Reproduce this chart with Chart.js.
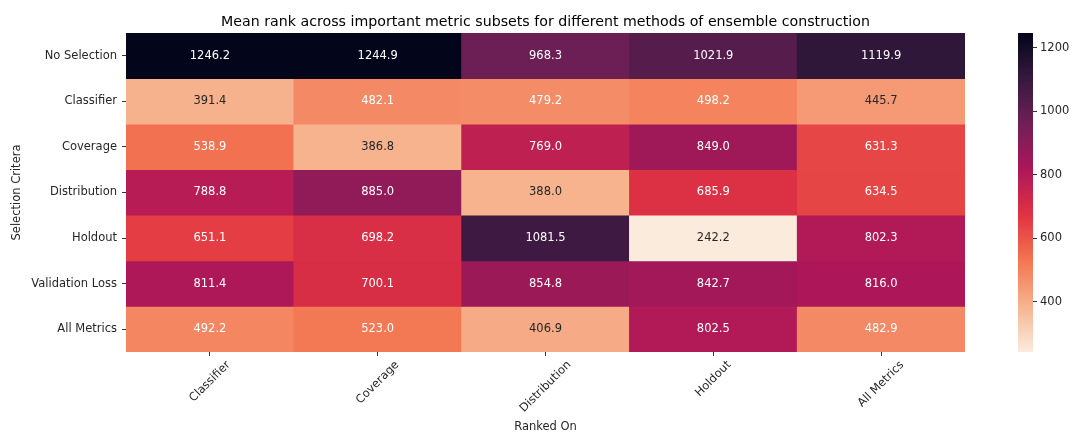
<!DOCTYPE html>
<html>
<head>
<meta charset="utf-8">
<script src="https://cdn.jsdelivr.net/npm/chart.js@4.4.1/dist/chart.umd.min.js"></script>
<style>
  html, body { margin: 0; padding: 0; background: #ffffff; }
  #wrap { position: relative; width: 1072px; height: 433px; }
  #wrap canvas { position: absolute; left: 0; top: 0; }
</style>
</head>
<body>
<div id="wrap">
  <canvas id="heat" width="1072" height="433"></canvas>
  <canvas id="cbar" width="1072" height="433"></canvas>
</div>
<script>
// Row / column categories
const rowLabels = ['No Selection', 'Classifier', 'Coverage', 'Distribution', 'Holdout', 'Validation Loss', 'All Metrics'];
const colLabels = ['Classifier', 'Coverage', 'Distribution', 'Holdout', 'All Metrics'];

// Mean rank per selection criterion (one array per row, columns in colLabels order)
const noSelection    = [1246.2, 1244.9, 968.3, 1021.9, 1119.9];
const classifier     = [391.4, 482.1, 479.2, 498.2, 445.7];
const coverage       = [538.9, 386.8, 769.0, 849.0, 631.3];
const distribution   = [788.8, 885.0, 388.0, 685.9, 634.5];
const holdout        = [651.1, 698.2, 1081.5, 242.2, 802.3];
const validationLoss = [811.4, 700.1, 854.8, 842.7, 816.0];
const allMetrics     = [492.2, 523.0, 406.9, 802.5, 482.9];

const colorbarTicks = [400, 600, 800, 1000, 1200];

const rowValues = [noSelection, classifier, coverage, distribution, holdout, validationLoss, allMetrics];
const flat = rowValues.flat();
const vmin = Math.min(...flat);
const vmax = Math.max(...flat);

const FONT = "'DejaVu Sans', sans-serif";
const TEXT = '#262626';

// "rocket" colormap anchor colours; heat uses it reversed
const rocketStops = [
  [0, '#03051a'], [1 / 7, '#35193e'], [2 / 7, '#701f57'], [3 / 7, '#ad1759'],
  [4 / 7, '#e13342'], [5 / 7, '#f37651'], [6 / 7, '#f6b48f'], [1, '#faebdd']
];
function hexToRgb(h) {
  return [parseInt(h.slice(1, 3), 16), parseInt(h.slice(3, 5), 16), parseInt(h.slice(5, 7), 16)];
}
function rocket(t) {
  t = Math.max(0, Math.min(1, t));
  for (let i = 1; i < rocketStops.length; i++) {
    const [p1, c1] = rocketStops[i];
    const [p0, c0] = rocketStops[i - 1];
    if (t <= p1) {
      const f = (t - p0) / (p1 - p0);
      const a = hexToRgb(c0), b = hexToRgb(c1);
      return a.map((v, k) => Math.round(v + (b[k] - v) * f));
    }
  }
  return hexToRgb(rocketStops[rocketStops.length - 1][1]);
}
function rgbFor(v) { return rocket(1 - (v - vmin) / (vmax - vmin)); }
function cssFor(v) { const c = rgbFor(v); return `rgb(${c[0]},${c[1]},${c[2]})`; }
function luminance(rgb) {
  const lin = rgb.map(c => { c /= 255; return c <= 0.03928 ? c / 12.92 : Math.pow((c + 0.055) / 1.055, 2.4); });
  return 0.2126 * lin[0] + 0.7152 * lin[1] + 0.0722 * lin[2];
}

// Cell value annotations
const cellLabels = {
  id: 'cellLabels',
  afterDatasetsDraw(chart) {
    const ctx = chart.ctx;
    ctx.save();
    ctx.font = `11.5px ${FONT}`;
    ctx.textAlign = 'center';
    ctx.textBaseline = 'middle';
    chart.data.datasets.forEach((ds, r) => {
      chart.getDatasetMeta(r).data.forEach((el, i) => {
        const v = ds.values[i];
        ctx.fillStyle = luminance(rgbFor(v)) > 0.408 ? TEXT : '#ffffff';
        ctx.fillText(v.toFixed(1), el.x, (el.y + el.base) / 2);
      });
    });
    ctx.restore();
  }
};

// Column labels, rotated 45 degrees and centred under each tick
const columnLabels = {
  id: 'columnLabels',
  afterDraw(chart) {
    const ctx = chart.ctx;
    const xs = chart.scales.x;
    const top = chart.chartArea.bottom + 7;
    ctx.save();
    ctx.font = `11.5px ${FONT}`;
    ctx.fillStyle = TEXT;
    ctx.textAlign = 'center';
    ctx.textBaseline = 'middle';
    const h = 11.5;
    colLabels.forEach((lab, i) => {
      const w = ctx.measureText(lab).width;
      const boxH = (w + h) * Math.SQRT1_2;
      ctx.save();
      ctx.translate(xs.getPixelForValue(i), top + boxH / 2);
      ctx.rotate(-Math.PI / 4);
      ctx.fillText(lab, 0, 0);
      ctx.restore();
    });
    ctx.restore();
  }
};

// Figure title centred over the heat map
const heatTitle = {
  id: 'heatTitle',
  afterDraw(chart) {
    const ctx = chart.ctx;
    const ca = chart.chartArea;
    ctx.save();
    ctx.font = `14.2px ${FONT}`;
    ctx.fillStyle = '#000000';
    ctx.textAlign = 'center';
    ctx.textBaseline = 'alphabetic';
    ctx.fillText('Mean rank across important metric subsets for different methods of ensemble construction', (ca.left + ca.right) / 2, 26);
    ctx.restore();
  }
};

new Chart(document.getElementById('heat'), {
  type: 'bar',
  data: {
    labels: colLabels,
    datasets: rowValues.map((vals, r) => ({
      label: rowLabels[r],
      values: vals,
      data: vals.map(() => [r, r + 1]),
      backgroundColor: vals.map(cssFor),
      borderWidth: 0,
      grouped: false,
      barPercentage: 1,
      categoryPercentage: 1
    }))
  },
  options: {
    responsive: false,
    animation: false,
    events: [],
    layout: { padding: { top: 33, right: 107, left: 0, bottom: 0 } },
    plugins: { legend: { display: false }, tooltip: { enabled: false } },
    scales: {
      x: {
        type: 'category',
        offset: true,
        border: { display: false },
        grid: { offset: false, drawOnChartArea: false, drawTicks: true, tickLength: 4, tickColor: '#333333' },
        ticks: { display: false },
        title: { display: true, text: 'Ranked On', color: TEXT, font: { family: FONT, size: 11.5, lineHeight: 1.0 }, padding: { top: 0, bottom: 0 } },
        afterFit(s) { s.height = 81; }
      },
      y: {
        type: 'linear',
        min: 0,
        max: rowLabels.length,
        reverse: true,
        afterBuildTicks(s) { s.ticks = rowLabels.map((_, i) => ({ value: i + 0.5 })); },
        border: { display: false },
        grid: { drawOnChartArea: false, tickLength: 4, tickColor: '#333333' },
        ticks: {
          autoSkip: false,
          padding: 5,
          color: TEXT,
          font: { family: FONT, size: 11.5 },
          callback: (v) => rowLabels[Math.floor(v)]
        },
        title: { display: true, text: 'Selection Critera', color: TEXT, font: { family: FONT, size: 11.5, lineHeight: 1.2 }, padding: { top: 10, bottom: 0 } },
        afterFit(s) { s.width = 126; }
      }
    }
  },
  plugins: [cellLabels, columnLabels, heatTitle]
});

// Colour bar
function colorbarGradient(context) {
  const chart = context.chart;
  if (!chart.chartArea) return null;
  const ys = chart.scales.y;
  const g = chart.ctx.createLinearGradient(0, ys.getPixelForValue(vmin), 0, ys.getPixelForValue(vmax));
  const n = 64;
  for (let i = 0; i <= n; i++) {
    const c = rocket(1 - i / n);
    g.addColorStop(i / n, `rgb(${c[0]},${c[1]},${c[2]})`);
  }
  return g;
}

new Chart(document.getElementById('cbar'), {
  type: 'bar',
  data: {
    labels: [''],
    datasets: [{ data: [[vmin, vmax]], backgroundColor: colorbarGradient, borderWidth: 0, barPercentage: 1, categoryPercentage: 1 }]
  },
  options: {
    responsive: false,
    animation: false,
    events: [],
    layout: { padding: { top: 33, right: 0, left: 1018, bottom: 81 } },
    plugins: { legend: { display: false }, tooltip: { enabled: false } },
    scales: {
      x: { display: false },
      y: {
        position: 'right',
        min: vmin,
        max: vmax,
        afterBuildTicks(s) { s.ticks = colorbarTicks.map(v => ({ value: v })); },
        border: { display: false },
        grid: { drawOnChartArea: false, tickLength: 4, tickColor: '#333333' },
        ticks: { padding: 3, color: TEXT, font: { family: FONT, size: 11.5 }, callback: (v) => String(v) },
        afterFit(s) { s.width = 39; }
      }
    }
  }
});
</script>
</body>
</html>
